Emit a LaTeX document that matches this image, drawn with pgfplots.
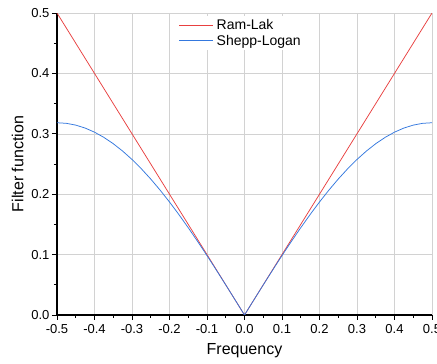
\documentclass[border=0pt]{standalone}
\usepackage{fontspec}
\setmainfont{Liberation Sans}
\usepackage{pgfplots}
\pgfplotsset{compat=1.18}
\definecolor{rlred}{RGB}{232,64,64}
\definecolor{slblue}{RGB}{52,120,222}
\begin{document}
\begin{tikzpicture}
\begin{axis}[
  at={(0pt,0pt)}, anchor=south west,
  scale only axis,
  width=375pt, height=302pt,
  xmin=-0.5, xmax=0.5, ymin=0, ymax=0.5,
  axis x line=bottom, axis y line=left,
  axis line style={-, line width=1.2pt, black},
  xtick={-0.5,-0.4,...,0.51}, ytick={0,0.1,...,0.51},
  minor x tick num=1, minor y tick num=1,
  tick align=outside,
  major tick length=5pt, minor tick length=3pt,
  tick style={black, line width=0.9pt},
  grid=major,
  major grid style={gray!35, line width=0.6pt},
  /pgf/number format/assume math mode=true,
  xticklabel style={yshift=-1pt, /pgf/number format/.cd, fixed, fixed zerofill, precision=1},
  yticklabel style={xshift=1pt, /pgf/number format/.cd, fixed, fixed zerofill, precision=1},
  ticklabel style={font=\fontsize{13}{15}\selectfont},
  xlabel={Frequency}, ylabel={Filter function},
  label style={font=\fontsize{16}{18}\selectfont},
  xlabel style={yshift=-3pt},
  ylabel style={yshift=1pt},
  legend style={at={(rel axis cs:0.322,0.99)}, anchor=north west, draw=none, fill=white,
    font=\fontsize{14}{16}\selectfont, row sep=0pt, inner sep=1pt,
    nodes={inner xsep=3pt}},
  legend cell align=left,
  legend image code/.code={\draw[#1] (0cm,0cm) -- (34pt,0cm);},
]
\addplot[rlred, line width=0.75pt] coordinates {(-0.5,0.5) (0,0) (0.5,0.5)};
\addlegendentry{Ram-Lak}
\addplot[slblue, line width=0.75pt] coordinates {
(-0.5,0.318310) (-0.475,0.317329) (-0.45,0.314391) (-0.425,0.309515) (-0.4,0.302731)
(-0.375,0.294080) (-0.35,0.283616) (-0.325,0.271404) (-0.3,0.257518) (-0.275,0.242045)
(-0.25,0.225079) (-0.225,0.206726) (-0.2,0.187098) (-0.175,0.166316) (-0.15,0.144510)
(-0.125,0.121812) (-0.1,0.098363) (-0.075,0.074308) (-0.05,0.049795) (-0.025,0.024974)
(0,0)
(0.025,0.024974) (0.05,0.049795) (0.075,0.074308) (0.1,0.098363) (0.125,0.121812)
(0.15,0.144510) (0.175,0.166316) (0.2,0.187098) (0.225,0.206726) (0.25,0.225079)
(0.275,0.242045) (0.3,0.257518) (0.325,0.271404) (0.35,0.283616) (0.375,0.294080)
(0.4,0.302731) (0.425,0.309515) (0.45,0.314391) (0.475,0.317329) (0.5,0.318310)};
\addlegendentry{Shepp-Logan}
\draw[black, line width=0.8pt] (rel axis cs:0.328,1.003) -- (rel axis cs:0.683,1.003);
\end{axis}
\pgfresetboundingbox
\path (-57pt,-49pt) rectangle (380pt,315pt);
\end{tikzpicture}
\end{document}
